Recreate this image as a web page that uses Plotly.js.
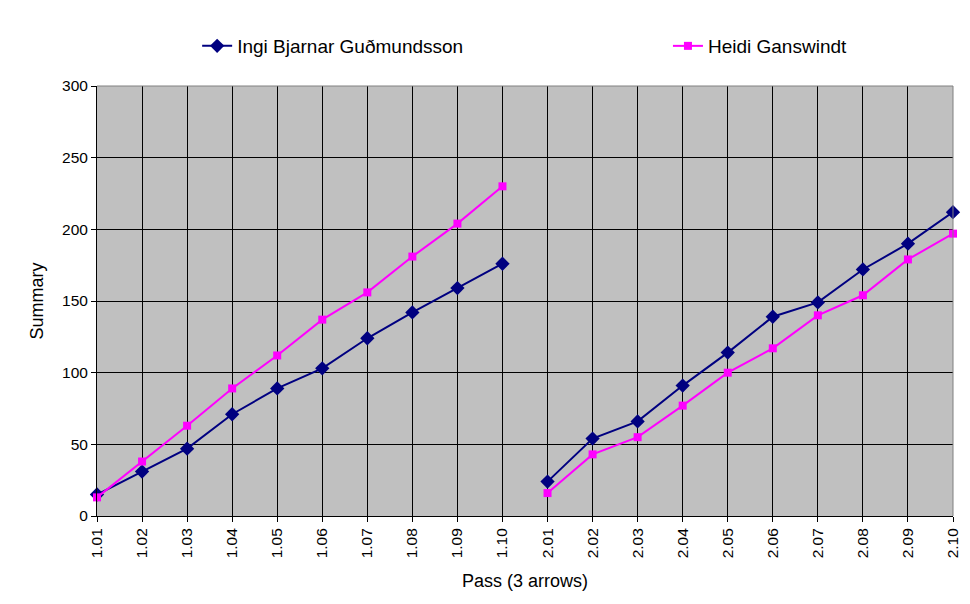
<!DOCTYPE html>
<html><head><meta charset="utf-8">
<script src="https://cdn.plot.ly/plotly-3.0.1.min.js"></script>
<style>body{margin:0;background:#fff}#c{width:970px;height:604px}</style>
</head><body><div id="c"></div>
<script>
const cats1 = ['1.01','1.02','1.03','1.04','1.05','1.06','1.07','1.08','1.09','1.10'];
const cats2 = ['2.01','2.02','2.03','2.04','2.05','2.06','2.07','2.08','2.09','2.10'];
const ingi1 = [15, 31, 47, 71, 89, 103, 124, 142, 159, 176];
const ingi2 = [24, 54, 66, 91, 114, 139, 149, 172, 190, 212];
const heidi1 = [13, 38, 63, 89, 112, 137, 156, 181, 204, 230];
const heidi2 = [16, 43, 55, 77, 100, 117, 140, 154, 179, 197];
const names = ['Ingi Bjarnar Guðmundsson', 'Heidi Ganswindt'];
const yTicks = [0, 50, 100, 150, 200, 250, 300];

const allCats = cats1.concat(cats2);
function seg(x, y, name, color, sym, size, show, leg) {
  return {type:'scatter', mode:'lines+markers', x:x, y:y, name:name, legendgroup:name, showlegend:show, legend:leg,
    line:{color:color, width:2}, marker:{color:color, symbol:sym, size:size}, cliponaxis:false};
}
const data = [
  seg(cats1, ingi1, names[0], '#000080', 'diamond', 11, true, 'legend'),
  seg(cats2, ingi2, names[0], '#000080', 'diamond', 11, false, 'legend'),
  seg(cats1, heidi1, names[1], '#FF00FF', 'square', 8, true, 'legend2'),
  seg(cats2, heidi2, names[1], '#FF00FF', 'square', 8, false, 'legend2'),
];
const legBase = {orientation:'h', xanchor:'left', y:1.093, yanchor:'middle', font:{size:19}, bgcolor:'rgba(0,0,0,0)'};
const layout = {
  width:970, height:604,
  margin:{l:97, r:17, t:86, b:88, autoexpand:false},
  paper_bgcolor:'#ffffff', plot_bgcolor:'#C0C0C0',
  font:{family:'Liberation Sans, Arial, sans-serif', size:15.5, color:'#000'},
  showlegend:true,
  legend:Object.assign({}, legBase, {x:0.117}),
  legend2:Object.assign({}, legBase, {x:0.667}),
  xaxis:{type:'category', categoryorder:'array', categoryarray:allCats, range:[0,19],
    tickangle:-90, showgrid:true, gridcolor:'#000', gridwidth:1, ticks:'outside', ticklen:5, tickcolor:'#000',
    showline:true, linecolor:'#000', linewidth:1, mirror:false, zeroline:false,
    title:{text:'Pass (3 arrows)', font:{size:18}, standoff:17}, tickfont:{size:15.5}},
  yaxis:{range:[0,300], tickvals:yTicks, showgrid:true, gridcolor:'#000', gridwidth:1, ticks:'outside', ticklen:5, tickcolor:'#000',
    showline:true, linecolor:'#000', linewidth:1, zeroline:false,
    title:{text:'Summary', font:{size:18}, standoff:13}, tickfont:{size:15.5}},
  shapes:[
    {type:'line', xref:'paper', yref:'paper', x0:0, x1:1, y0:1, y1:1, line:{color:'#808080', width:1}},
    {type:'line', xref:'paper', yref:'paper', x0:1, x1:1, y0:0, y1:1, line:{color:'#808080', width:1}}
  ]
};
Plotly.newPlot('c', data, layout, {displayModeBar:false, staticPlot:true});
</script></body></html>
